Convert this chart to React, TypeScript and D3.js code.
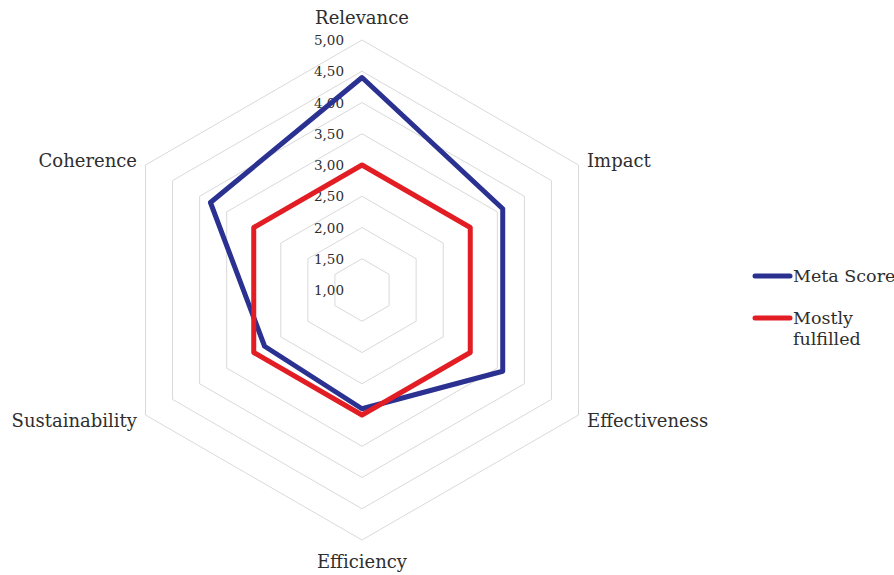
import React from "react";
import * as d3 from "d3";

const categories = ["Relevance", "Impact", "Effectiveness", "Efficiency", "Sustainability", "Coherence"];
const metaScore = [4.4, 3.6, 3.6, 2.9, 2.8, 3.8];
const mostlyFulfilled = [3.0, 3.0, 3.0, 3.0, 3.0, 3.0];
const tickValues = [1.0, 1.5, 2.0, 2.5, 3.0, 3.5, 4.0, 4.5, 5.0];
const seriesNames = ["Meta Score", "Mostly fulfilled"];

const W = 894;
const H = 575;
const cx = 362;
const cy = 290;
const R = 250;
const FONT = "'DejaVu Serif', serif";
const TEXT = "#2e2e2e";

export default function App() {
  const r = d3.scaleLinear().domain([1, 5]).range([0, R]);
  const angle = (i: number) => (i * 2 * Math.PI) / categories.length; // 0 = up, clockwise
  const pt = (i: number, v: number): [number, number] => {
    const a = angle(i);
    return [cx + r(v) * Math.sin(a), cy - r(v) * Math.cos(a)];
  };
  const closedLine = d3.line<[number, number]>().curve(d3.curveLinearClosed);

  const ringPath = (v: number) => closedLine(categories.map((_, i) => pt(i, v))) || "";
  const seriesPath = (vals: number[]) => closedLine(vals.map((v, i) => pt(i, v))) || "";

  const fmt = (v: number) => d3.format(".2f")(v).replace(".", ",");

  const labelPos = [
    { x: cx, y: 24, anchor: "middle" },
    { x: 587, y: 167, anchor: "start" },
    { x: 587, y: 427, anchor: "start" },
    { x: cx, y: 568, anchor: "middle" },
    { x: 137, y: 427, anchor: "end" },
    { x: 137, y: 167, anchor: "end" },
  ];

  return (
    <svg
      width={W}
      height={H}
      style={{ position: "absolute", left: 0, top: 0, background: "#fff" }}
    >
      <rect x={0} y={0} width={W} height={H} fill="#fff" />
      {tickValues.filter((v) => v > 1).map((v) => (
        <path key={v} d={ringPath(v)} fill="none" stroke="#d9d9d9" strokeWidth={1} />
      ))}
      {tickValues.map((v) => (
        <text
          key={"t" + v}
          x={344}
          y={cy - r(v)}
          textAnchor="end"
          dominantBaseline="central"
          fontFamily={FONT}
          fontSize={13.5}
          fill={TEXT}
        >
          {fmt(v)}
        </text>
      ))}
      <path
        d={seriesPath(metaScore)}
        fill="none"
        stroke="#2b3190"
        strokeWidth={5}
        strokeLinejoin="round"
      />
      <path
        d={seriesPath(mostlyFulfilled)}
        fill="none"
        stroke="#e21d24"
        strokeWidth={5}
        strokeLinejoin="round"
      />
      {categories.map((c, i) => (
        <text
          key={c}
          x={labelPos[i].x}
          y={labelPos[i].y}
          textAnchor={labelPos[i].anchor as any}
          fontFamily={FONT}
          fontSize={18}
          fill={TEXT}
        >
          {c}
        </text>
      ))}
      <g>
        <line x1={755} x2={790} y1={276} y2={276} stroke="#2b3190" strokeWidth={5} strokeLinecap="round" />
        <text x={793} y={282} fontFamily={FONT} fontSize={17.5} fill={TEXT}>
          {seriesNames[0]}
        </text>
        <line x1={755} x2={790} y1={318} y2={318} stroke="#e21d24" strokeWidth={5} strokeLinecap="round" />
        <text x={793} y={324} fontFamily={FONT} fontSize={17.5} fill={TEXT}>
          <tspan x={793}>{seriesNames[1].split(" ")[0]}</tspan>
          <tspan x={793} dy={21}>{seriesNames[1].split(" ")[1]}</tspan>
        </text>
      </g>
    </svg>
  );
}
